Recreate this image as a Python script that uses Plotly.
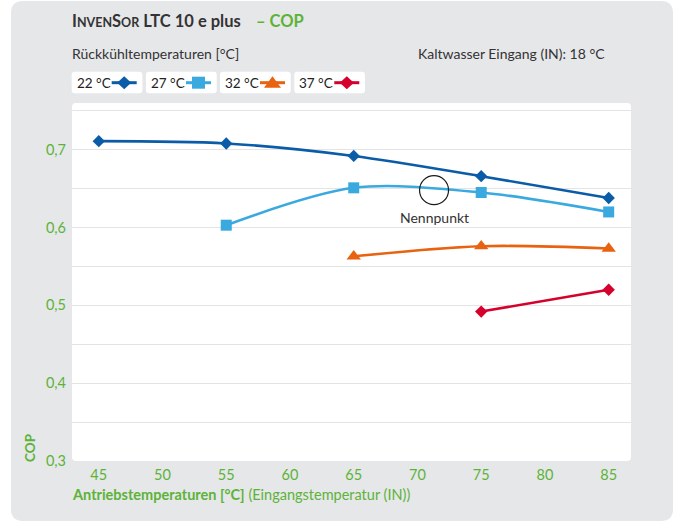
import plotly.graph_objects as go

# ---------------- data ----------------
x_22 = [45, 55, 65, 75, 85]
cop_22 = [0.711, 0.708, 0.692, 0.666, 0.638]
x_27 = [55, 65, 75, 85]
cop_27 = [0.603, 0.651, 0.645, 0.620]
x_32 = [65, 75, 85]
cop_32 = [0.563, 0.576, 0.573]
x_37 = [75, 85]
cop_37 = [0.492, 0.520]

series_names = ["22 °C", "27 °C", "32 °C", "37 °C"]
y_ticks = [0.3, 0.4, 0.5, 0.6, 0.7]
x_ticks = [45, 50, 55, 60, 65, 70, 75, 80, 85]
nenn_x, nenn_y = 71.3, 0.648

# ---------------- styles ----------------
C22, C27, C32, C37 = "#0a5ca8", "#3aa9df", "#e8620f", "#d5002b"
GREEN = "#5cb338"
DARK = "#333333"
GRAY_BG = "#e6e7e9"
FONT = "Lato"

W, H = 675, 524
L, R, T, B = 72, 631, 103, 461


def px(x):
    return (x - L) / (R - L)


def py(y):
    return (B - y) / (B - T)


def rounded_path(x0, y0, x1, y1, r):
    pts = [
        ("M", [(x0 + r, y0)]),
        ("L", [(x1 - r, y0)]),
        ("Q", [(x1, y0), (x1, y0 + r)]),
        ("L", [(x1, y1 - r)]),
        ("Q", [(x1, y1), (x1 - r, y1)]),
        ("L", [(x0 + r, y1)]),
        ("Q", [(x0, y1), (x0, y1 - r)]),
        ("L", [(x0, y0 + r)]),
        ("Q", [(x0, y0), (x0 + r, y0)]),
    ]
    s = ""
    for cmd, ps in pts:
        s += cmd + " ".join(f"{px(a):.5f},{py(b):.5f}" for a, b in ps) + " "
    return s + "Z"


def poly_path(points):
    return "M" + " L".join(f"{px(a):.5f},{py(b):.5f}" for a, b in points) + " Z"


fig = go.Figure()

specs = [
    (x_22, cop_22, C22, "diamond", 9.5),
    (x_27, cop_27, C27, "square", 11),
    (x_32, cop_32, C32, "triangle-up", 12.5),
    (x_37, cop_37, C37, "diamond", 9.5),
]
for (xs, ys, col, sym, sz), name in zip(specs, series_names):
    fig.add_trace(go.Scatter(
        x=xs, y=ys, name=name, mode="lines+markers",
        line=dict(color=col, width=2.6, shape="spline", smoothing=0.9),
        marker=dict(color=col, symbol=sym, size=sz, line=dict(width=0)),
        showlegend=False, cliponaxis=False, hoverinfo="skip",
    ))

shapes = []
# gray panel
shapes.append(dict(type="path", xref="paper", yref="paper", layer="below",
                   path=rounded_path(11, 1, 673, 521, 12),
                   fillcolor=GRAY_BG, line=dict(width=0)))
# white plot area
shapes.append(dict(type="path", xref="paper", yref="paper", layer="below",
                   path=rounded_path(L, T, R, B, 4),
                   fillcolor="white", line=dict(width=0)))

# legend boxes + keys
box_x = [71.7, 146.0, 220.0, 294.3]
key_cy = 82.7
annotations = []
key_syms = ["diamond", "square", "triangle", "diamond"]
key_cols = [C22, C27, C32, C37]
for bx, name, ks, kc in zip(box_x, series_names, key_syms, key_cols):
    shapes.append(dict(type="path", xref="paper", yref="paper", layer="below",
                       path=rounded_path(bx, 71.7, bx + 70.7, 93.3, 3),
                       fillcolor="white", line=dict(width=0)))
    shapes.append(dict(type="line", xref="paper", yref="paper", layer="below",
                       x0=px(bx + 40), x1=px(bx + 65), y0=py(key_cy), y1=py(key_cy),
                       line=dict(color=kc, width=3)))
    cx = bx + 52.5
    if ks == "diamond":
        pts = [(cx - 7, key_cy), (cx, key_cy - 6.5), (cx + 7, key_cy), (cx, key_cy + 6.5)]
    elif ks == "square":
        pts = [(cx - 6.5, key_cy - 6), (cx + 6.5, key_cy - 6), (cx + 6.5, key_cy + 6), (cx - 6.5, key_cy + 6)]
    else:
        pts = [(cx - 8.5, key_cy + 5), (cx + 8.5, key_cy + 5), (cx, key_cy - 6.5)]
    shapes.append(dict(type="path", xref="paper", yref="paper", layer="below",
                       path=poly_path(pts), fillcolor=kc, line=dict(width=0)))
    annotations.append(dict(xref="paper", yref="paper", x=px(bx + 3), y=py(key_cy),
                            xanchor="left", yanchor="middle", showarrow=False,
                            text=name, font=dict(family=FONT, size=13.5, color="#222")))

# Nennpunkt circle
shapes.append(dict(type="circle", xref="x", yref="y", xsizemode="pixel", ysizemode="pixel",
                   xanchor=nenn_x, yanchor=nenn_y, x0=-14.5, x1=14.5, y0=-14.5, y1=14.5,
                   line=dict(color="#1a1a1a", width=1.2), layer="above"))
annotations.append(dict(xref="x", yref="y", x=nenn_x, y=nenn_y, yshift=-27,
                        showarrow=False, text="Nennpunkt", xanchor="center", yanchor="middle",
                        font=dict(family=FONT, size=14, color=DARK)))

# header texts
sc = "font-size:12.5px"
annotations.append(dict(xref="paper", yref="paper", x=px(70), y=py(21), xanchor="left",
                        yanchor="middle", showarrow=False,
                        text=f"<b>I<span style='{sc}'>NVEN</span>S<span style='{sc}'>OR</span> LTC 10 e plus</b>",
                        font=dict(family=FONT, size=16.5, color=DARK)))
annotations.append(dict(xref="paper", yref="paper", x=px(254), y=py(21), xanchor="left",
                        yanchor="middle", showarrow=False, text="<b>– COP</b>",
                        font=dict(family=FONT, size=16.5, color=GREEN)))
annotations.append(dict(xref="paper", yref="paper", x=px(70), y=py(53), xanchor="left",
                        yanchor="middle", showarrow=False, text="Rückkühltemperaturen [°C]",
                        font=dict(family=FONT, size=14, color=DARK)))
annotations.append(dict(xref="paper", yref="paper", x=px(607), y=py(53), xanchor="right",
                        yanchor="middle", showarrow=False, text="Kaltwasser Eingang (IN): 18 °C",
                        font=dict(family=FONT, size=14, color=DARK)))
# axis titles
annotations.append(dict(xref="paper", yref="paper", x=px(70), y=py(494), xanchor="left",
                        yanchor="middle", showarrow=False,
                        text="<b>Antriebstemperaturen [°C]</b> (Eingangstemperatur (IN))",
                        font=dict(family=FONT, size=14.5, color=GREEN)))
annotations.append(dict(xref="paper", yref="paper", x=px(30), y=py(447), xanchor="center",
                        yanchor="middle", showarrow=False, textangle=-90, text="<b>COP</b>",
                        font=dict(family=FONT, size=13.5, color=GREEN)))

fig.update_layout(
    width=W, height=H,
    margin=dict(l=L, r=W - R, t=T, b=H - B, pad=0),
    paper_bgcolor="white", plot_bgcolor="rgba(0,0,0,0)",
    separators=",.",
    hovermode=False,
    shapes=shapes, annotations=annotations,
    font=dict(family=FONT, size=14, color=GREEN),
    xaxis=dict(range=[42.9, 86.75], tickvals=x_ticks, showgrid=False, zeroline=False,
               showline=False, ticks="", ticklabelstandoff=3,
               tickfont=dict(family=FONT, size=14.5, color=GREEN)),
    yaxis=dict(range=[0.3, 0.76], tickvals=y_ticks, tickformat=".1f", showgrid=True,
               gridcolor="#e4e4e4", gridwidth=1, zeroline=False, showline=False, ticks="",
               ticklabelstandoff=5,
               minor=dict(dtick=0.05, tick0=0.3, showgrid=True, gridcolor="#e4e4e4", gridwidth=1),
               tickfont=dict(family=FONT, size=14.5, color=GREEN)),
)

fig.write_html("out.html", config={"displayModeBar": False},
               post_script="document.body.style.margin='0';document.body.style.overflow='hidden';")
